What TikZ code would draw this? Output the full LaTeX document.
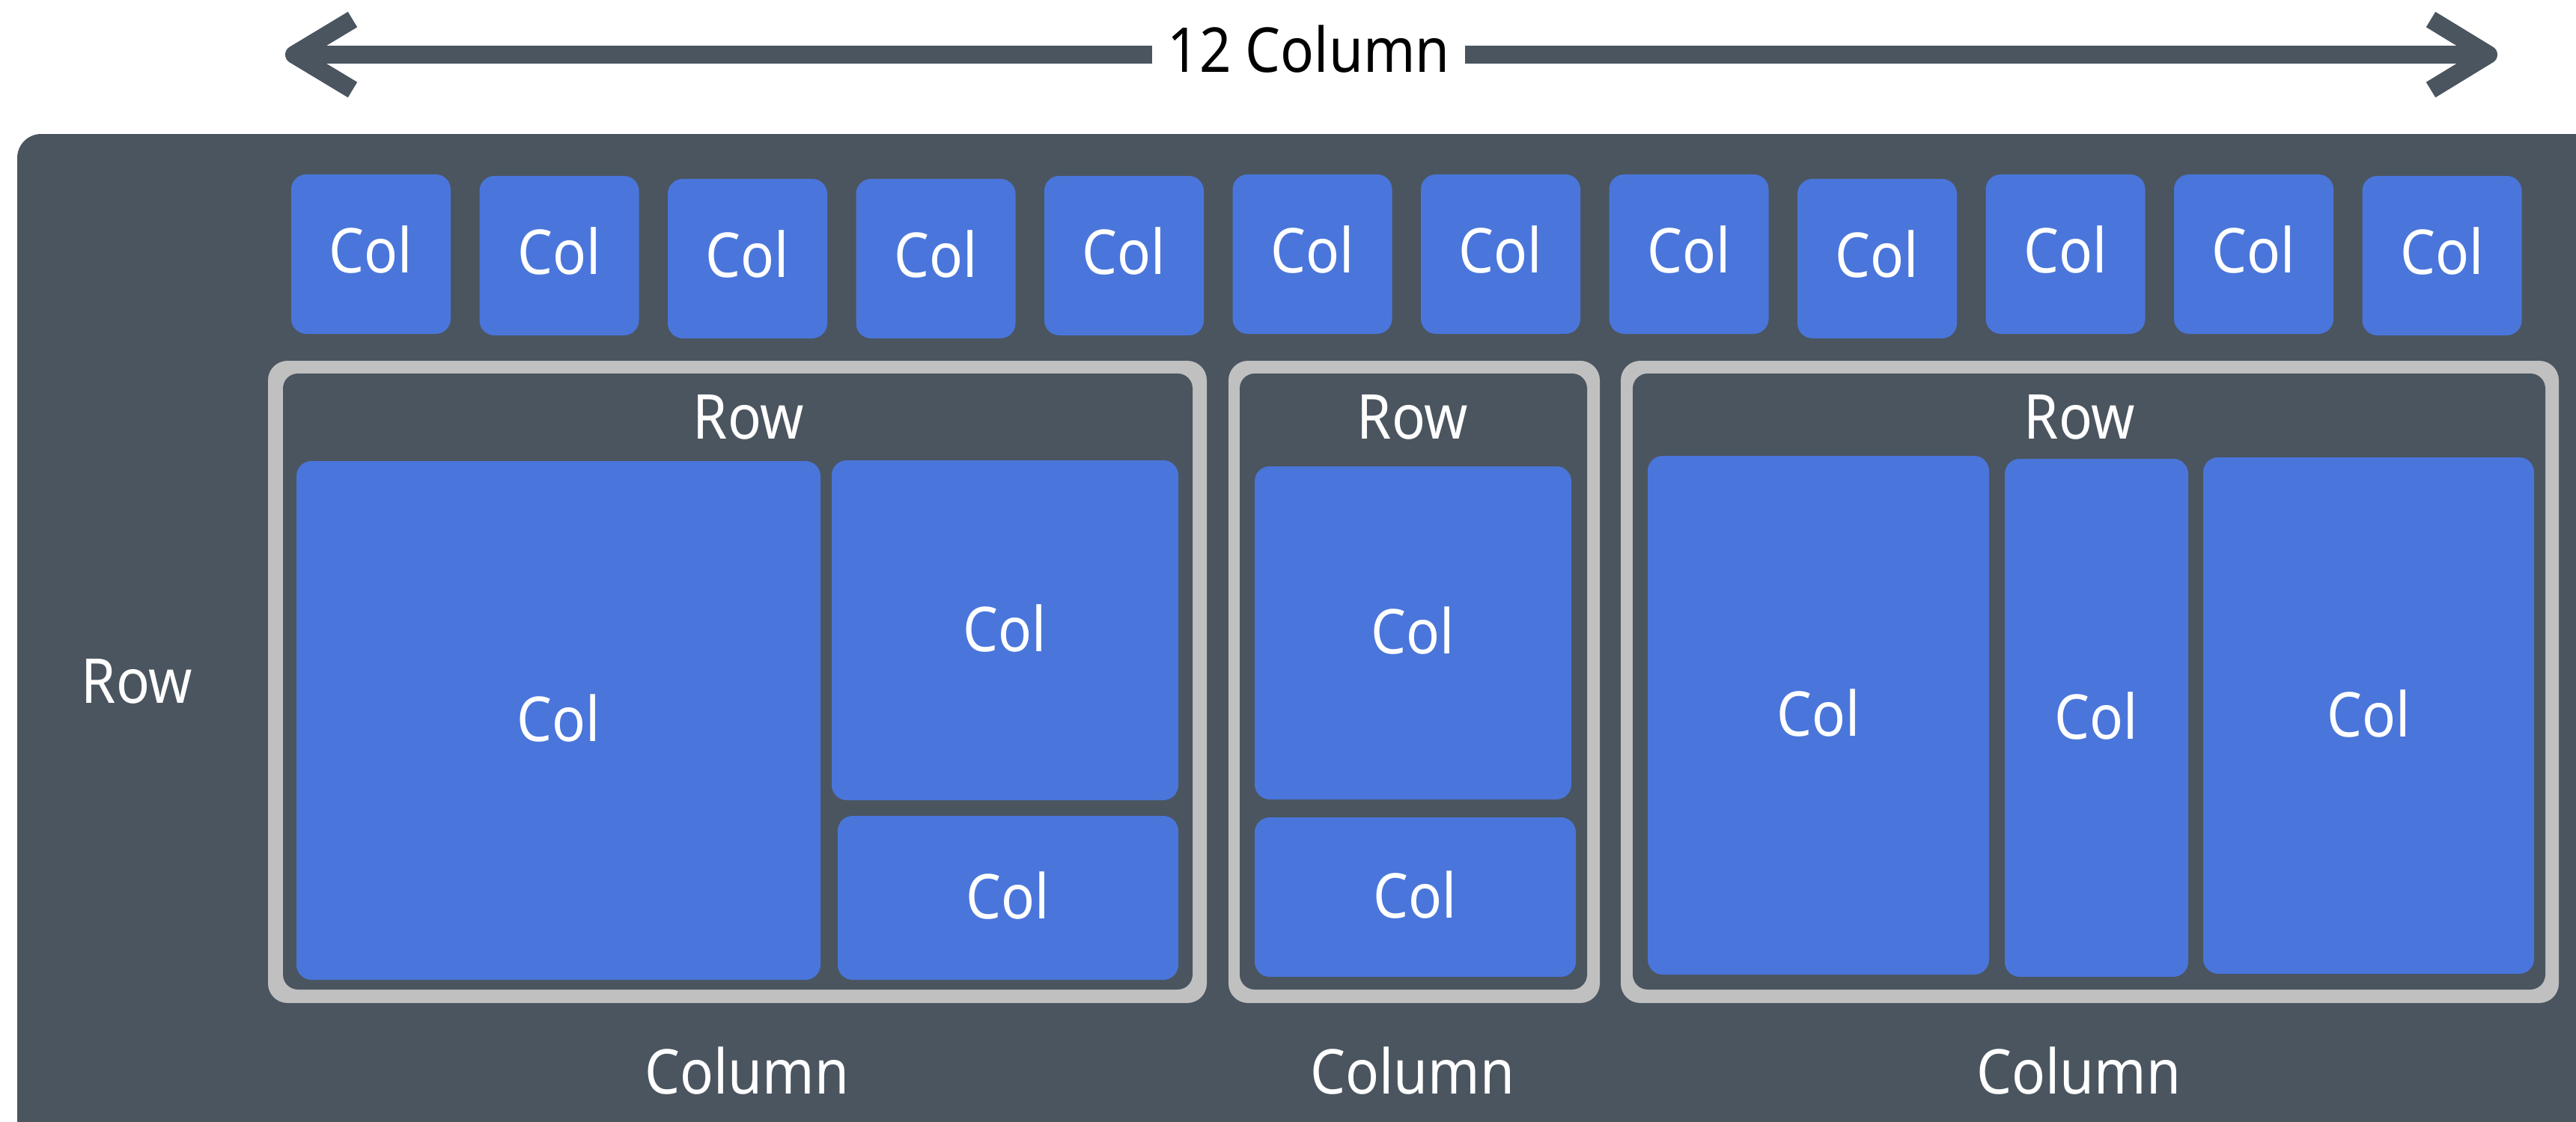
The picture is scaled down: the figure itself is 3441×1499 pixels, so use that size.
\documentclass[tikz,border=0pt]{standalone}
\usepackage{fontspec}
\newfontfamily\lblfont{Noto Sans}[FakeStretch=0.9]
\newfontfamily\ttlfont{Noto Sans}[FakeStretch=0.9]
\usetikzlibrary{fit,calc}
\definecolor{darkbg}{RGB}{75,85,95}
\definecolor{colblue}{RGB}{74,118,219}
\definecolor{rowgray}{RGB}{192,192,192}
\tikzset{
  lbl/.style={text=white, font=\lblfont\fontsize{20.66}{24}\selectfont, inner sep=0pt},
  collbl/.style={lbl, anchor=base},
  colbox/.style={fill=colblue, rounded corners=5pt, inner sep=0pt},
  rowouter/.style={fill=rowgray, rounded corners=6.5pt, inner sep=0pt},
  rowinner/.style={fill=darkbg, rounded corners=5pt, inner sep=0pt},
  shaft/.style={draw=darkbg, line width=6pt},
  chevron/.style={draw=darkbg, line width=6pt, line join=round},
  ttl/.style={text=black, font=\ttlfont\fontsize{20.66}{24}\selectfont, inner xsep=5pt, inner ysep=0pt}
}
\newcommand{\colat}[2]{\node[collbl] (#1lbl) at ($(#1.center)+(0,#2)$) {Col};}
\begin{document}
\begin{tikzpicture}[x=0.25pt,y=-0.25pt]
\useasboundingbox (0,0) rectangle (3441,1499);
\clip (0,0) rectangle (3441,1499);
% background panel
\fill[darkbg, rounded corners=8pt] (23,179) rectangle (3520,1530);
% top arrow
\coordinate (ltip) at (393,73);
\coordinate (la1) at (471,26);
\coordinate (la2) at (471,120);
\coordinate (rtip) at (3324,73);
\coordinate (ra1) at (3247,26);
\coordinate (ra2) at (3247,120);
\node[ttl] (title) at (1748,66) {12 Column};
\draw[chevron] (la1) -- (ltip) -- (la2);
\draw[chevron] (ra1) -- (rtip) -- (ra2);
\draw[shaft] (ltip) -- (ltip -| title.west);
\draw[shaft] (rtip -| title.east) -- (rtip);
% top 12 columns
\foreach \i/\yt in {1/233,2/235,3/239,4/239,5/235,6/233,7/233,8/233,9/239,10/233,11/233,12/235}{
  \pgfmathsetmacro{\xl}{389+(\i-1)*251.5}
  \pgfmathsetmacro{\xr}{\xl+213}
  \pgfmathsetmacro{\yb}{\yt+213}
  \coordinate (tl\i) at (\xl,\yt);
  \coordinate (br\i) at (\xr,\yb);
  \node[colbox, fit=(tl\i)(br\i)] (top\i) {};
  \colat{top\i}{24.5}
}
% left Row label
\node[lbl] (rowlabel) at (183,910) {Row};
% row 1
\coordinate (r1a) at (358,482); \coordinate (r1b) at (1612,1340);
\coordinate (r1c) at (378,499); \coordinate (r1d) at (1593,1322);
\node[rowouter, fit=(r1a)(r1b)] (row1out) {};
\node[rowinner, fit=(r1c)(r1d)] (row1) {};
\node[lbl] (row1lab) at (1000,557) {Row};
\coordinate (a1) at (396,616); \coordinate (a2) at (1096,1309);
\node[colbox, fit=(a1)(a2)] (c11) {}; \colat{c11}{28}
\coordinate (b1) at (1111,615); \coordinate (b2) at (1574,1069);
\node[colbox, fit=(b1)(b2)] (c12) {}; \colat{c12}{28}
\coordinate (d1) at (1119,1090); \coordinate (d2) at (1574,1309);
\node[colbox, fit=(d1)(d2)] (c13) {}; \colat{c13}{28}
\node[lbl] (col1lab) at (998,1430) {Column};
% row 2
\coordinate (r2a) at (1641,482); \coordinate (r2b) at (2137,1340);
\coordinate (r2c) at (1656,499); \coordinate (r2d) at (2120,1322);
\node[rowouter, fit=(r2a)(r2b)] (row2out) {};
\node[rowinner, fit=(r2c)(r2d)] (row2) {};
\node[lbl] (row2lab) at (1887,557) {Row};
\coordinate (e1) at (1676,623); \coordinate (e2) at (2099,1068);
\node[colbox, fit=(e1)(e2)] (c21) {}; \colat{c21}{28}
\coordinate (f1) at (1676,1092); \coordinate (f2) at (2105,1305);
\node[colbox, fit=(f1)(f2)] (c22) {}; \colat{c22}{28}
\node[lbl] (col2lab) at (1887,1430) {Column};
% row 3
\coordinate (r3a) at (2165,482); \coordinate (r3b) at (3418,1340);
\coordinate (r3c) at (2181,499); \coordinate (r3d) at (3400,1322);
\node[rowouter, fit=(r3a)(r3b)] (row3out) {};
\node[rowinner, fit=(r3c)(r3d)] (row3) {};
\node[lbl] (row3lab) at (2778,557) {Row};
\coordinate (g1) at (2201,609); \coordinate (g2) at (2657,1302);
\node[colbox, fit=(g1)(g2)] (c31) {}; \colat{c31}{28}
\coordinate (h1) at (2678,613); \coordinate (h2) at (2923,1305);
\node[colbox, fit=(h1)(h2)] (c32) {}; \colat{c32}{28}
\coordinate (k1) at (2943,611); \coordinate (k2) at (3385,1301);
\node[colbox, fit=(k1)(k2)] (c33) {}; \colat{c33}{28}
\node[lbl] (col3lab) at (2777,1430) {Column};
\end{tikzpicture}
\end{document}
